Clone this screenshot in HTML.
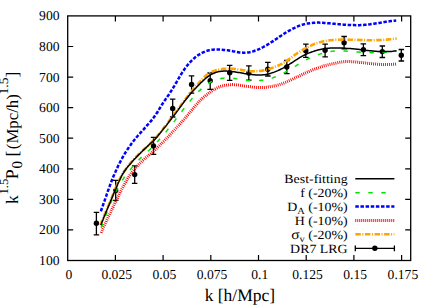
<!DOCTYPE html><html><head><meta charset="utf-8"><style>html,body{margin:0;padding:0;background:#fff}svg{display:block}text{font-family:"Liberation Serif",serif;fill:#000;text-rendering:geometricPrecision}</style></head><body>
<svg width="436" height="305" viewBox="0 0 436 305">
<rect width="436" height="305" fill="#fff"/>
<path d="M96.4,212.4V234.8M93.7,212.4h5.5M93.7,234.8h5.5" stroke="#000" stroke-width="1.3" fill="none"/>
<circle cx="96.4" cy="223.3" r="2.7" fill="#000"/>
<path d="M115.7,180.4V200.3M113.0,180.4h5.5M113.0,200.3h5.5" stroke="#000" stroke-width="1.3" fill="none"/>
<circle cx="115.7" cy="190.6" r="2.7" fill="#000"/>
<path d="M134.7,165.8V183.4M131.9,165.8h5.5M131.9,183.4h5.5" stroke="#000" stroke-width="1.3" fill="none"/>
<circle cx="134.7" cy="174.6" r="2.7" fill="#000"/>
<path d="M153.5,137.4V154.3M150.8,137.4h5.5M150.8,154.3h5.5" stroke="#000" stroke-width="1.3" fill="none"/>
<circle cx="153.5" cy="145.9" r="2.7" fill="#000"/>
<path d="M172.7,99.2V117.0M169.9,99.2h5.5M169.9,117.0h5.5" stroke="#000" stroke-width="1.3" fill="none"/>
<circle cx="172.7" cy="108.4" r="2.7" fill="#000"/>
<path d="M191.6,75.9V93.2M188.8,75.9h5.5M188.8,93.2h5.5" stroke="#000" stroke-width="1.3" fill="none"/>
<circle cx="191.6" cy="84.4" r="2.7" fill="#000"/>
<path d="M210.2,73.0V89.3M207.4,73.0h5.5M207.4,89.3h5.5" stroke="#000" stroke-width="1.3" fill="none"/>
<circle cx="210.2" cy="80.8" r="2.7" fill="#000"/>
<path d="M229.7,65.3V80.4M226.9,65.3h5.5M226.9,80.4h5.5" stroke="#000" stroke-width="1.3" fill="none"/>
<circle cx="229.7" cy="72.8" r="2.7" fill="#000"/>
<path d="M248.8,65.8V80.1M246.1,65.8h5.5M246.1,80.1h5.5" stroke="#000" stroke-width="1.3" fill="none"/>
<circle cx="248.8" cy="73.0" r="2.7" fill="#000"/>
<path d="M267.8,62.4V76.0M265.1,62.4h5.5M265.1,76.0h5.5" stroke="#000" stroke-width="1.3" fill="none"/>
<circle cx="267.8" cy="69.2" r="2.7" fill="#000"/>
<path d="M286.8,60.5V73.7M284.1,60.5h5.5M284.1,73.7h5.5" stroke="#000" stroke-width="1.3" fill="none"/>
<circle cx="286.8" cy="67.0" r="2.7" fill="#000"/>
<path d="M305.8,44.2V57.3M303.1,44.2h5.5M303.1,57.3h5.5" stroke="#000" stroke-width="1.3" fill="none"/>
<circle cx="305.8" cy="50.8" r="2.7" fill="#000"/>
<path d="M325.1,44.1V56.9M322.4,44.1h5.5M322.4,56.9h5.5" stroke="#000" stroke-width="1.3" fill="none"/>
<circle cx="325.1" cy="50.3" r="2.7" fill="#000"/>
<path d="M344.1,36.5V48.8M341.4,36.5h5.5M341.4,48.8h5.5" stroke="#000" stroke-width="1.3" fill="none"/>
<circle cx="344.1" cy="42.8" r="2.7" fill="#000"/>
<path d="M363.4,43.8V55.6M360.6,43.8h5.5M360.6,55.6h5.5" stroke="#000" stroke-width="1.3" fill="none"/>
<circle cx="363.4" cy="49.8" r="2.7" fill="#000"/>
<path d="M382.3,46.0V57.5M379.6,46.0h5.5M379.6,57.5h5.5" stroke="#000" stroke-width="1.3" fill="none"/>
<circle cx="382.3" cy="51.6" r="2.7" fill="#000"/>
<path d="M401.3,49.5V61.0M398.6,49.5h5.5M398.6,61.0h5.5" stroke="#000" stroke-width="1.3" fill="none"/>
<circle cx="401.3" cy="55.2" r="2.7" fill="#000"/>
<path d="M100.5,225.1 L100.8,224.2 L101.2,223.3 L101.5,222.4 L101.8,221.4 L102.2,220.5 L102.5,219.6 L102.9,218.8 L103.3,217.9 L103.6,217.0 L104.0,216.1 L104.4,215.2 L104.7,214.3 L105.1,213.4 L105.5,212.5 L105.8,211.6 L106.2,210.7 L106.6,209.9 L107.0,209.0 L107.4,208.1 L107.7,207.2 L108.1,206.3 L108.5,205.4 L108.9,204.5 L109.2,203.7 L109.6,202.8 L110.0,201.9 L110.4,201.0 L110.7,200.1 L111.1,199.2 L111.5,198.3 L111.8,197.4 L112.2,196.5 L112.6,195.6 L112.9,194.7 L113.3,193.8 L113.7,192.9 L114.0,192.0 L114.4,191.1 L114.7,190.2 L115.1,189.3 L115.5,188.4 L115.8,187.5 L116.2,186.7 L116.6,185.8 L117.0,184.9 L117.4,184.0 L117.7,183.1 L118.1,182.2 L118.6,181.3 L119.0,180.5 L119.4,179.6 L119.8,178.7 L120.3,177.9 L120.7,177.0 L121.2,176.2 L121.7,175.4 L122.1,174.5 L122.6,173.7 L123.1,172.9 L123.7,172.1 L124.2,171.3 L124.7,170.5 L125.3,169.7 L125.8,168.9 L126.4,168.2 L127.0,167.4 L127.6,166.6 L128.2,165.9 L128.8,165.1 L129.4,164.4 L130.0,163.6 L130.6,162.9 L131.2,162.1 L131.9,161.4 L132.5,160.7 L133.2,160.0 L133.8,159.3 L134.5,158.6 L135.1,157.9 L135.8,157.2 L136.5,156.5 L137.2,155.8 L137.9,155.1 L138.5,154.4 L139.2,153.7 L139.9,153.1 L140.6,152.4 L141.3,151.7 L142.0,151.0 L142.7,150.4 L143.4,149.7 L144.1,149.1 L144.9,148.4 L145.6,147.8 L146.3,147.1 L147.0,146.4 L147.7,145.8 L148.4,145.1 L149.1,144.5 L149.8,143.8 L150.5,143.1 L151.2,142.5 L151.8,141.8 L152.5,141.1 L153.2,140.4 L153.9,139.7 L154.5,139.0 L155.2,138.3 L155.8,137.6 L156.5,136.9 L157.1,136.2 L157.8,135.5 L158.4,134.7 L159.0,134.0 L159.6,133.3 L160.2,132.5 L160.8,131.7 L161.4,131.0 L162.0,130.2 L162.6,129.5 L163.2,128.7 L163.8,127.9 L164.4,127.1 L165.0,126.4 L165.5,125.6 L166.1,124.8 L166.7,124.1 L167.3,123.3 L167.9,122.5 L168.5,121.7 L169.0,121.0 L169.6,120.2 L170.2,119.4 L170.8,118.7 L171.4,117.9 L172.0,117.2 L172.6,116.4 L173.1,115.6 L173.7,114.9 L174.3,114.1 L174.9,113.3 L175.5,112.5 L176.0,111.8 L176.6,111.0 L177.2,110.2 L177.8,109.5 L178.3,108.7 L178.9,107.9 L179.5,107.1 L180.1,106.3 L180.6,105.6 L181.2,104.8 L181.8,104.0 L182.4,103.2 L182.9,102.5 L183.5,101.7 L184.1,100.9 L184.7,100.2 L185.2,99.4 L185.8,98.6 L186.4,97.8 L187.0,97.1 L187.6,96.3 L188.2,95.6 L188.8,94.8 L189.4,94.1 L190.0,93.3 L190.6,92.6 L191.2,91.8 L191.8,91.1 L192.5,90.3 L193.1,89.6 L193.7,88.9 L194.3,88.1 L195.0,87.4 L195.6,86.7 L196.2,85.9 L196.9,85.2 L197.5,84.5 L198.2,83.8 L198.8,83.0 L199.4,82.3 L200.1,81.6 L200.7,80.8 L201.4,80.1 L202.0,79.4 L202.7,78.7 L203.4,78.0 L204.0,77.3 L204.7,76.6 L205.4,76.0 L206.2,75.4 L206.9,74.8 L207.7,74.2 L208.5,73.7 L209.3,73.2 L210.1,72.7 L210.9,72.3 L211.8,71.8 L212.7,71.5 L213.6,71.1 L214.5,70.8 L215.4,70.5 L216.3,70.2 L217.3,69.9 L218.2,69.7 L219.2,69.5 L220.1,69.3 L221.1,69.2 L222.1,69.0 L223.0,68.9 L224.0,68.8 L225.0,68.8 L226.0,68.7 L226.9,68.7 L227.9,68.7 L228.9,68.7 L229.8,68.7 L230.8,68.7 L231.7,68.8 L232.7,68.9 L233.6,68.9 L234.6,69.0 L235.5,69.1 L236.5,69.3 L237.4,69.4 L238.4,69.5 L239.3,69.7 L240.3,69.8 L241.2,69.9 L242.2,70.1 L243.2,70.2 L244.1,70.4 L245.1,70.5 L246.0,70.7 L247.0,70.8 L247.9,70.9 L248.9,71.0 L249.9,71.1 L250.8,71.2 L251.8,71.3 L252.7,71.3 L253.7,71.3 L254.7,71.3 L255.6,71.3 L256.6,71.2 L257.5,71.2 L258.5,71.1 L259.5,71.0 L260.4,70.9 L261.4,70.7 L262.3,70.6 L263.3,70.4 L264.2,70.2 L265.2,70.0 L266.1,69.8 L267.1,69.5 L268.0,69.3 L268.9,69.0 L269.9,68.7 L270.8,68.4 L271.7,68.1 L272.6,67.8 L273.5,67.5 L274.4,67.2 L275.3,66.8 L276.2,66.4 L277.1,66.1 L278.0,65.7 L278.9,65.3 L279.7,64.9 L280.6,64.4 L281.5,64.0 L282.3,63.5 L283.1,63.0 L284.0,62.6 L284.8,62.0 L285.6,61.5 L286.4,61.0 L287.2,60.5 L288.0,59.9 L288.8,59.3 L289.5,58.8 L290.3,58.2 L291.1,57.6 L291.9,57.1 L292.6,56.5 L293.4,55.9 L294.2,55.3 L295.0,54.8 L295.8,54.2 L296.6,53.7 L297.4,53.1 L298.2,52.6 L299.0,52.1 L299.8,51.6 L300.6,51.0 L301.4,50.6 L302.3,50.1 L303.1,49.6 L303.9,49.1 L304.8,48.6 L305.6,48.2 L306.5,47.7 L307.3,47.3 L308.2,46.8 L309.1,46.4 L309.9,46.0 L310.8,45.6 L311.7,45.2 L312.6,44.8 L313.5,44.4 L314.3,44.0 L315.2,43.7 L316.2,43.4 L317.1,43.1 L318.0,42.8 L318.9,42.5 L319.8,42.2 L320.7,42.0 L321.7,41.8 L322.6,41.5 L323.6,41.3 L324.5,41.1 L325.5,41.0 L326.4,40.8 L327.4,40.7 L328.3,40.5 L329.3,40.4 L330.2,40.3 L331.2,40.2 L332.2,40.1 L333.1,40.0 L334.1,39.9 L335.1,39.9 L336.0,39.8 L337.0,39.8 L338.0,39.7 L338.9,39.7 L339.9,39.7 L340.9,39.6 L341.8,39.6 L342.8,39.6 L343.8,39.6 L344.7,39.6 L345.7,39.6 L346.7,39.6 L347.6,39.6 L348.6,39.7 L349.5,39.7 L350.5,39.7 L351.5,39.7 L352.4,39.7 L353.4,39.8 L354.4,39.8 L355.3,39.8 L356.3,39.9 L357.2,39.9 L358.2,39.9 L359.2,40.0 L360.1,40.0 L361.1,40.0 L362.1,40.0 L363.0,40.1 L364.0,40.1 L364.9,40.1 L365.9,40.1 L366.9,40.2 L367.8,40.2 L368.8,40.2 L369.8,40.2 L370.7,40.2 L371.7,40.2 L372.7,40.2 L373.6,40.2 L374.6,40.2 L375.6,40.2 L376.5,40.1 L377.5,40.1 L378.5,40.1 L379.4,40.1 L380.4,40.0 L381.4,40.0 L382.3,39.9 L383.3,39.9 L384.2,39.8 L385.2,39.7 L386.2,39.7 L387.1,39.6 L388.1,39.5 L389.0,39.4 L390.0,39.3 L391.0,39.2 L391.9,39.1 L392.9,39.0 L393.8,38.8 L394.8,38.7 L395.7,38.6 L396.7,38.4" fill="none" stroke="#ffa500" stroke-width="2.6" stroke-dasharray="5.5 1.5 1.0 1.6"/>
<path d="M101.1,232.8 L101.6,231.6 L102.1,230.5 L102.6,229.3 L103.1,228.2 L103.6,227.0 L104.1,225.9 L104.6,224.8 L105.2,223.6 L105.7,222.5 L106.2,221.4 L106.7,220.2 L107.3,219.1 L107.8,218.0 L108.3,216.8 L108.8,215.7 L109.4,214.6 L109.9,213.5 L110.5,212.4 L111.0,211.2 L111.5,210.1 L112.1,209.0 L112.6,207.9 L113.2,206.8 L113.7,205.7 L114.3,204.5 L114.8,203.4 L115.4,202.3 L115.9,201.2 L116.5,200.1 L117.0,198.9 L117.6,197.8 L118.1,196.7 L118.7,195.6 L119.2,194.4 L119.8,193.3 L120.3,192.2 L120.9,191.0 L121.5,189.9 L122.0,188.8 L122.6,187.7 L123.2,186.6 L123.8,185.5 L124.4,184.4 L125.0,183.3 L125.6,182.2 L126.2,181.1 L126.9,180.0 L127.5,178.9 L128.2,177.9 L128.8,176.8 L129.5,175.8 L130.2,174.8 L130.9,173.8 L131.7,172.8 L132.4,171.8 L133.2,170.8 L134.0,169.8 L134.8,168.9 L135.6,167.9 L136.4,167.0 L137.3,166.1 L138.1,165.2 L139.0,164.3 L139.9,163.4 L140.8,162.6 L141.6,161.7 L142.5,160.8 L143.5,160.0 L144.4,159.1 L145.3,158.3 L146.2,157.4 L147.1,156.6 L148.1,155.9 L149.0,155.1 L149.9,154.3 L150.8,153.6 L151.7,152.8 L152.7,152.0 L153.6,151.2 L154.5,150.3 L155.4,149.5 L156.3,148.7 L157.2,147.8 L158.0,147.0 L158.9,146.1 L159.8,145.3 L160.7,144.4 L161.6,143.6 L162.4,142.7 L163.3,141.8 L164.2,141.0 L165.0,140.1 L165.9,139.2 L166.7,138.3 L167.6,137.4 L168.5,136.5 L169.3,135.6 L170.1,134.7 L171.0,133.8 L171.8,132.9 L172.7,132.0 L173.5,131.1 L174.3,130.2 L175.2,129.2 L176.0,128.3 L176.8,127.4 L177.6,126.5 L178.5,125.6 L179.3,124.7 L180.1,123.8 L180.9,122.9 L181.7,122.0 L182.5,121.1 L183.3,120.2 L184.2,119.3 L185.0,118.3 L185.8,117.3 L186.6,116.4 L187.4,115.4 L188.2,114.5 L189.0,113.5 L189.8,112.5 L190.6,111.6 L191.4,110.6 L192.2,109.7 L193.0,108.7 L193.8,107.7 L194.6,106.8 L195.4,105.8 L196.2,104.8 L197.1,103.9 L197.9,102.9 L198.7,101.9 L199.6,101.0 L200.5,100.1 L201.3,99.2 L202.2,98.4 L203.1,97.6 L204.0,96.9 L205.0,96.2 L205.9,95.4 L206.9,94.7 L207.9,93.9 L208.9,93.1 L209.9,92.4 L211.0,91.6 L212.1,90.8 L213.1,90.1 L214.2,89.4 L215.4,88.8 L216.5,88.2 L217.6,87.7 L218.8,87.2 L220.0,86.7 L221.1,86.3 L222.3,86.0 L223.5,85.7 L224.7,85.4 L225.9,85.2 L227.2,85.0 L228.4,84.9 L229.6,84.7 L230.8,84.7 L232.1,84.6 L233.3,84.6 L234.6,84.7 L235.8,84.8 L237.0,84.9 L238.3,85.0 L239.5,85.2 L240.8,85.4 L242.0,85.6 L243.2,85.8 L244.5,86.0 L245.7,86.1 L247.0,86.3 L248.2,86.4 L249.5,86.5 L250.7,86.7 L252.0,87.0 L253.3,87.2 L254.5,87.3 L255.8,87.4 L257.0,87.4 L258.3,87.4 L259.5,87.5 L260.8,87.5 L262.0,87.5 L263.3,87.5 L264.5,87.4 L265.7,87.3 L267.0,87.2 L268.2,87.0 L269.4,86.9 L270.6,86.6 L271.8,86.4 L273.0,86.2 L274.2,85.9 L275.4,85.7 L276.6,85.4 L277.7,85.1 L278.9,84.8 L280.1,84.4 L281.3,84.0 L282.4,83.5 L283.6,83.1 L284.7,82.6 L285.9,82.2 L287.0,81.7 L288.2,81.2 L289.3,80.7 L290.5,80.2 L291.6,79.6 L292.8,79.0 L293.9,78.4 L295.1,77.9 L296.2,77.3 L297.4,76.8 L298.5,76.3 L299.7,75.7 L300.8,75.2 L302.0,74.6 L303.1,74.1 L304.3,73.6 L305.4,73.0 L306.6,72.5 L307.7,72.0 L308.9,71.5 L310.0,71.0 L311.2,70.5 L312.4,70.0 L313.5,69.6 L314.7,69.1 L315.9,68.7 L317.0,68.2 L318.2,67.8 L319.4,67.4 L320.6,67.0 L321.7,66.6 L322.9,66.2 L324.1,65.8 L325.3,65.5 L326.5,65.2 L327.7,64.9 L328.9,64.6 L330.1,64.3 L331.3,64.0 L332.5,63.8 L333.7,63.6 L334.9,63.4 L336.1,63.1 L337.3,62.8 L338.6,62.5 L339.8,62.3 L341.0,62.1 L342.3,61.9 L343.5,61.7 L344.7,61.6 L346.0,61.5 L347.2,61.5 L348.4,61.6 L349.7,61.6 L350.9,61.7 L352.2,61.7 L353.4,61.8 L354.7,61.9 L356.0,62.0 L357.2,62.1 L358.5,62.2 L359.7,62.4 L361.0,62.5 L362.2,62.6 L363.5,62.8 L364.8,62.9 L366.0,63.0 L367.3,63.2 L368.6,63.3 L369.8,63.5 L371.1,63.6 L372.3,63.7 L373.6,63.9 L374.9,64.0 L376.1,64.1 L377.4,64.2 L378.6,64.3 L379.9,64.4 L381.1,64.5 L382.4,64.5 L383.6,64.6 L384.9,64.6 L386.1,64.6 L387.4,64.6 L388.6,64.6 L389.9,64.5 L391.1,64.5 L392.3,64.4 L393.5,64.3 L394.8,64.2 L396.0,64.0" fill="none" stroke="#ff0000" stroke-width="3.0" stroke-dasharray="0.9 1.1"/>
<path d="M100.8,211.3 L101.3,210.1 L101.7,208.8 L102.2,207.6 L102.6,206.3 L103.0,205.1 L103.5,203.8 L103.9,202.6 L104.4,201.4 L104.8,200.1 L105.2,198.9 L105.6,197.6 L106.1,196.4 L106.5,195.1 L106.9,193.9 L107.4,192.6 L107.8,191.4 L108.2,190.2 L108.7,188.9 L109.1,187.7 L109.6,186.4 L110.0,185.2 L110.5,184.0 L110.9,182.7 L111.4,181.5 L111.9,180.3 L112.3,179.0 L112.8,177.9 L113.3,176.7 L113.8,175.6 L114.3,174.5 L114.8,173.3 L115.3,172.2 L115.8,171.0 L116.4,169.8 L116.9,168.6 L117.5,167.4 L118.0,166.2 L118.6,165.0 L119.2,163.9 L119.8,162.7 L120.4,161.5 L121.0,160.3 L121.6,159.2 L122.3,158.0 L122.9,156.9 L123.6,155.7 L124.3,154.6 L124.9,153.4 L125.6,152.3 L126.3,151.2 L127.0,150.1 L127.8,149.0 L128.5,147.9 L129.2,146.8 L130.0,145.7 L130.8,144.7 L131.5,143.6 L132.3,142.6 L133.1,141.6 L133.9,140.5 L134.7,139.5 L135.6,138.5 L136.4,137.5 L137.2,136.5 L138.1,135.5 L138.9,134.6 L139.8,133.6 L140.6,132.6 L141.5,131.7 L142.3,130.7 L143.2,129.8 L144.1,128.8 L144.9,127.9 L145.8,126.9 L146.6,125.9 L147.5,125.0 L148.3,124.0 L149.2,123.1 L150.0,122.1 L150.9,121.1 L151.7,120.1 L152.5,119.1 L153.3,118.1 L154.1,117.0 L154.8,116.0 L155.6,114.9 L156.3,113.8 L157.1,112.7 L157.8,111.5 L158.5,110.3 L159.2,109.2 L159.9,108.0 L160.7,106.8 L161.4,105.7 L162.1,104.5 L162.8,103.4 L163.6,102.2 L164.3,101.1 L165.1,100.0 L165.8,98.9 L166.5,97.9 L167.3,96.8 L168.0,95.7 L168.8,94.7 L169.5,93.6 L170.2,92.5 L170.9,91.4 L171.6,90.3 L172.3,89.2 L173.0,88.1 L173.7,86.9 L174.4,85.8 L175.0,84.7 L175.7,83.5 L176.4,82.4 L177.0,81.3 L177.7,80.1 L178.3,79.0 L179.0,77.9 L179.7,76.7 L180.4,75.6 L181.0,74.5 L181.7,73.4 L182.4,72.2 L183.2,71.2 L183.9,70.1 L184.6,69.0 L185.4,67.9 L186.2,66.9 L187.0,65.8 L187.8,64.8 L188.7,63.8 L189.5,62.8 L190.4,61.8 L191.4,60.8 L192.3,59.9 L193.3,59.0 L194.3,58.1 L195.3,57.2 L196.4,56.4 L197.5,55.6 L198.6,54.9 L199.7,54.2 L200.8,53.5 L202.0,52.9 L203.2,52.3 L204.4,51.8 L205.6,51.3 L206.8,50.9 L208.0,50.5 L209.3,50.2 L210.6,50.0 L211.8,49.8 L213.1,49.7 L214.4,49.6 L215.7,49.6 L217.0,49.6 L218.4,49.6 L219.7,49.6 L221.0,49.7 L222.3,49.8 L223.7,49.9 L225.0,50.0 L226.3,50.2 L227.7,50.3 L229.0,50.5 L230.3,50.7 L231.6,50.9 L232.9,51.2 L234.2,51.4 L235.5,51.7 L236.8,52.0 L238.1,52.2 L239.4,52.4 L240.7,52.5 L242.0,52.6 L243.2,52.7 L244.5,52.7 L245.8,52.6 L247.1,52.5 L248.4,52.4 L249.6,52.2 L250.9,51.9 L252.2,51.6 L253.5,51.2 L254.7,50.8 L256.0,50.4 L257.2,49.9 L258.5,49.4 L259.7,48.8 L260.9,48.2 L262.1,47.6 L263.3,47.0 L264.4,46.4 L265.6,45.7 L266.7,45.1 L267.9,44.4 L269.0,43.7 L270.1,43.0 L271.2,42.3 L272.3,41.6 L273.4,40.9 L274.5,40.1 L275.6,39.4 L276.7,38.7 L277.8,37.9 L278.9,37.2 L280.0,36.4 L281.1,35.7 L282.2,34.9 L283.3,34.2 L284.4,33.5 L285.5,32.8 L286.6,32.1 L287.8,31.4 L288.9,30.8 L290.1,30.2 L291.2,29.6 L292.4,28.9 L293.5,28.3 L294.7,27.8 L295.9,27.2 L297.1,26.7 L298.3,26.2 L299.5,25.7 L300.7,25.2 L302.0,24.8 L303.2,24.5 L304.5,24.1 L305.7,23.8 L307.0,23.6 L308.3,23.4 L309.6,23.2 L310.9,23.0 L312.2,22.9 L313.5,22.8 L314.8,22.7 L316.2,22.6 L317.5,22.6 L318.8,22.6 L320.1,22.7 L321.5,22.7 L322.8,22.8 L324.1,22.9 L325.4,23.0 L326.8,23.1 L328.1,23.2 L329.4,23.3 L330.7,23.5 L332.0,23.6 L333.3,23.7 L334.7,23.8 L336.0,23.9 L337.3,24.1 L338.6,24.2 L339.9,24.3 L341.2,24.5 L342.5,24.6 L343.8,24.7 L345.2,24.8 L346.5,24.9 L347.8,24.9 L349.1,25.0 L350.4,25.0 L351.7,25.1 L353.0,25.1 L354.3,25.1 L355.6,25.2 L356.9,25.2 L358.2,25.2 L359.6,25.2 L360.9,25.1 L362.2,25.0 L363.5,25.0 L364.8,24.8 L366.1,24.7 L367.4,24.6 L368.7,24.4 L370.1,24.3 L371.4,24.1 L372.7,23.9 L374.0,23.7 L375.3,23.5 L376.6,23.3 L377.9,23.1 L379.2,22.9 L380.5,22.7 L381.9,22.5 L383.2,22.2 L384.5,22.0 L385.8,21.8 L387.1,21.6 L388.4,21.5 L389.7,21.3 L391.0,21.1 L392.3,21.0 L393.6,20.8 L394.9,20.7 L396.2,20.6" fill="none" stroke="#0000ff" stroke-width="2.5" stroke-dasharray="3.5 1.64"/>
<path d="M101.2,227.8 L101.6,226.6 L102.1,225.5 L102.5,224.3 L102.9,223.1 L103.4,222.0 L103.8,220.8 L104.3,219.6 L104.7,218.4 L105.1,217.2 L105.6,216.1 L106.0,214.9 L106.5,213.7 L106.9,212.5 L107.4,211.3 L107.9,210.1 L108.3,208.9 L108.8,207.8 L109.3,206.6 L109.7,205.4 L110.2,204.2 L110.7,203.0 L111.2,201.9 L111.7,200.7 L112.2,199.5 L112.7,198.4 L113.2,197.2 L113.8,196.0 L114.3,194.9 L114.9,193.7 L115.4,192.6 L116.0,191.5 L116.6,190.3 L117.1,189.2 L117.7,188.1 L118.3,187.0 L119.0,185.9 L119.6,184.8 L120.2,183.7 L120.9,182.6 L121.5,181.5 L122.2,180.5 L122.9,179.4 L123.6,178.4 L124.3,177.3 L125.1,176.3 L125.8,175.3 L126.5,174.3 L127.3,173.3 L128.1,172.3 L128.9,171.3 L129.7,170.3 L130.5,169.4 L131.3,168.4 L132.1,167.4 L132.9,166.5 L133.7,165.5 L134.6,164.6 L135.4,163.6 L136.3,162.7 L137.1,161.8 L138.0,160.8 L138.9,159.9 L139.7,159.0 L140.6,158.1 L141.5,157.2 L142.4,156.4 L143.2,155.6 L144.1,154.8 L145.0,154.0 L145.9,153.3 L146.8,152.5 L147.7,151.7 L148.5,150.8 L149.4,150.0 L150.3,149.1 L151.2,148.2 L152.1,147.3 L152.9,146.4 L153.8,145.5 L154.7,144.6 L155.5,143.7 L156.4,142.8 L157.3,141.9 L158.1,140.9 L158.9,140.0 L159.8,139.0 L160.6,138.1 L161.4,137.2 L162.2,136.2 L163.1,135.2 L163.9,134.3 L164.7,133.3 L165.5,132.3 L166.3,131.4 L167.1,130.4 L167.9,129.4 L168.6,128.5 L169.4,127.5 L170.2,126.5 L171.0,125.5 L171.8,124.5 L172.5,123.5 L173.3,122.5 L174.1,121.6 L174.9,120.6 L175.6,119.6 L176.4,118.5 L177.2,117.5 L178.0,116.5 L178.7,115.5 L179.5,114.4 L180.3,113.4 L181.1,112.4 L181.8,111.4 L182.6,110.3 L183.4,109.3 L184.2,108.3 L185.0,107.3 L185.8,106.3 L186.6,105.3 L187.4,104.3 L188.2,103.4 L189.0,102.4 L189.8,101.4 L190.6,100.4 L191.4,99.4 L192.2,98.4 L193.1,97.5 L193.9,96.5 L194.8,95.6 L195.6,94.6 L196.5,93.7 L197.4,92.8 L198.2,91.9 L199.1,91.0 L200.1,90.1 L201.0,89.2 L201.9,88.4 L202.9,87.5 L203.9,86.7 L204.9,85.9 L205.9,85.1 L207.0,84.4 L208.0,83.7 L209.1,83.0 L210.2,82.4 L211.4,81.7 L212.5,81.2 L213.7,80.6 L214.9,80.1 L216.1,79.7 L217.3,79.3 L218.5,78.9 L219.8,78.7 L221.0,78.5 L222.3,78.3 L223.5,78.2 L224.7,78.1 L226.0,78.1 L227.2,78.1 L228.5,78.1 L229.8,78.2 L231.0,78.3 L232.3,78.4 L233.5,78.5 L234.8,78.6 L236.1,78.8 L237.3,78.9 L238.6,79.1 L239.9,79.3 L241.1,79.5 L242.4,79.7 L243.7,80.0 L245.0,80.2 L246.2,80.4 L247.5,80.6 L248.8,80.7 L250.1,80.7 L251.3,80.8 L252.6,80.8 L253.9,80.8 L255.2,80.8 L256.4,80.7 L257.7,80.7 L259.0,80.6 L260.2,80.5 L261.5,80.3 L262.7,80.2 L264.0,80.0 L265.2,79.8 L266.4,79.5 L267.7,79.3 L268.9,79.0 L270.1,78.7 L271.3,78.3 L272.5,77.9 L273.6,77.5 L274.8,77.1 L276.0,76.7 L277.1,76.2 L278.3,75.7 L279.4,75.2 L280.5,74.6 L281.7,74.1 L282.8,73.5 L283.9,72.9 L285.0,72.3 L286.1,71.7 L287.2,71.0 L288.3,70.4 L289.4,69.7 L290.5,69.1 L291.6,68.4 L292.7,67.8 L293.8,67.1 L294.9,66.4 L296.0,65.8 L297.0,65.1 L298.1,64.4 L299.2,63.8 L300.3,63.1 L301.4,62.5 L302.6,61.8 L303.7,61.2 L304.8,60.6 L305.9,60.0 L307.0,59.4 L308.2,58.8 L309.3,58.3 L310.5,57.7 L311.6,57.2 L312.8,56.7 L313.9,56.2 L315.1,55.8 L316.3,55.3 L317.5,54.9 L318.7,54.5 L319.8,54.1 L321.0,53.8 L322.3,53.4 L323.5,53.0 L324.7,52.7 L325.9,52.4 L327.1,52.1 L328.4,51.9 L329.6,51.6 L330.8,51.5 L332.1,51.3 L333.3,51.2 L334.6,51.1 L335.8,51.0 L337.1,50.9 L338.4,50.9 L339.6,50.9 L340.9,50.9 L342.2,50.9 L343.4,51.0 L344.7,51.0 L346.0,51.1 L347.3,51.2 L348.5,51.3 L349.8,51.4 L351.1,51.5 L352.4,51.6 L353.6,51.7 L354.9,51.8 L356.2,51.9 L357.4,52.0 L358.7,52.1 L360.0,52.2 L361.2,52.3 L362.5,52.3 L363.8,52.4 L365.0,52.5 L366.3,52.5 L367.6,52.6 L368.8,52.6 L370.1,52.6 L371.3,52.7 L372.6,52.7 L373.8,52.7 L375.1,52.7 L376.3,52.7 L377.6,52.6 L378.8,52.6 L380.1,52.6 L381.4,52.5 L382.6,52.5 L383.9,52.4 L385.1,52.3 L386.4,52.2 L387.6,52.1 L388.9,52.0 L390.2,51.9 L391.4,51.8 L392.7,51.6 L394.0,51.4 L395.2,51.3 L396.5,51.1" fill="none" stroke="#00e400" stroke-width="1.5" stroke-dasharray="4.4 8.6"/>
<path d="M100.8,225.2 L101.3,224.0 L101.7,222.8 L102.2,221.6 L102.7,220.4 L103.2,219.2 L103.6,218.0 L104.1,216.8 L104.6,215.6 L105.1,214.5 L105.6,213.3 L106.0,212.1 L106.5,210.9 L107.0,209.8 L107.5,208.6 L108.0,207.4 L108.5,206.2 L109.0,205.1 L109.5,203.9 L110.0,202.7 L110.4,201.6 L110.9,200.4 L111.4,199.2 L111.9,198.0 L112.4,196.9 L112.9,195.7 L113.4,194.5 L113.9,193.3 L114.4,192.1 L114.9,190.9 L115.4,189.7 L115.9,188.6 L116.4,187.4 L116.9,186.2 L117.4,185.0 L117.9,183.8 L118.4,182.6 L119.0,181.5 L119.5,180.3 L120.1,179.1 L120.6,178.0 L121.2,176.8 L121.8,175.7 L122.4,174.6 L123.0,173.5 L123.7,172.5 L124.3,171.5 L125.0,170.5 L125.7,169.5 L126.4,168.5 L127.1,167.6 L127.9,166.6 L128.7,165.7 L129.5,164.8 L130.3,163.9 L131.1,163.0 L131.9,162.0 L132.8,161.0 L133.6,160.1 L134.5,159.1 L135.4,158.2 L136.3,157.2 L137.2,156.3 L138.1,155.4 L139.0,154.5 L139.9,153.6 L140.8,152.7 L141.8,151.8 L142.7,150.8 L143.6,149.9 L144.5,149.1 L145.4,148.2 L146.4,147.4 L147.3,146.5 L148.2,145.6 L149.1,144.7 L150.0,143.8 L150.9,143.1 L151.8,142.4 L152.7,141.7 L153.5,140.9 L154.4,139.9 L155.3,139.0 L156.2,138.1 L157.0,137.0 L157.9,135.9 L158.7,134.8 L159.6,133.7 L160.4,132.7 L161.3,131.7 L162.1,130.6 L162.9,129.6 L163.7,128.6 L164.6,127.6 L165.4,126.6 L166.2,125.6 L167.0,124.6 L167.7,123.6 L168.5,122.5 L169.3,121.5 L170.1,120.5 L170.8,119.5 L171.6,118.5 L172.4,117.4 L173.1,116.5 L173.9,115.5 L174.7,114.6 L175.4,113.6 L176.2,112.6 L176.9,111.6 L177.7,110.6 L178.4,109.6 L179.2,108.5 L179.9,107.5 L180.7,106.5 L181.5,105.4 L182.2,104.4 L183.0,103.4 L183.8,102.3 L184.5,101.3 L185.3,100.3 L186.1,99.3 L186.9,98.3 L187.7,97.3 L188.5,96.3 L189.3,95.3 L190.1,94.3 L190.9,93.3 L191.7,92.4 L192.5,91.5 L193.4,90.6 L194.2,89.7 L195.1,88.8 L195.9,87.9 L196.8,86.9 L197.7,86.0 L198.6,85.1 L199.5,84.2 L200.4,83.3 L201.3,82.4 L202.3,81.5 L203.2,80.6 L204.2,79.7 L205.2,78.8 L206.2,77.9 L207.2,77.1 L208.3,76.3 L209.3,75.6 L210.4,74.9 L211.5,74.3 L212.6,73.7 L213.8,73.2 L215.0,72.7 L216.2,72.3 L217.5,71.9 L218.7,71.6 L220.0,71.4 L221.2,71.3 L222.5,71.2 L223.8,71.1 L225.1,71.1 L226.3,71.1 L227.6,71.2 L228.9,71.3 L230.2,71.4 L231.5,71.5 L232.8,71.7 L234.1,71.8 L235.4,72.0 L236.7,72.2 L237.9,72.4 L239.2,72.6 L240.5,72.8 L241.8,73.0 L243.1,73.2 L244.3,73.5 L245.6,73.7 L246.9,73.8 L248.1,74.0 L249.4,74.2 L250.7,74.4 L251.9,74.5 L253.2,74.7 L254.5,74.8 L255.7,74.9 L257.0,75.0 L258.2,75.0 L259.5,75.0 L260.7,75.0 L262.0,74.9 L263.2,74.8 L264.5,74.7 L265.7,74.5 L267.0,74.2 L268.2,74.0 L269.4,73.7 L270.7,73.3 L271.9,72.9 L273.1,72.5 L274.3,72.1 L275.5,71.6 L276.7,71.1 L277.9,70.6 L279.1,70.0 L280.3,69.5 L281.4,68.9 L282.6,68.3 L283.7,67.7 L284.8,67.0 L286.0,66.4 L287.1,65.7 L288.2,65.0 L289.2,64.4 L290.3,63.7 L291.4,63.0 L292.5,62.3 L293.5,61.6 L294.6,60.9 L295.7,60.2 L296.7,59.5 L297.8,58.8 L298.9,58.1 L300.0,57.4 L301.1,56.8 L302.2,56.2 L303.3,55.6 L304.5,55.0 L305.6,54.5 L306.8,53.9 L308.0,53.4 L309.1,52.9 L310.3,52.5 L311.6,52.0 L312.8,51.6 L314.0,51.2 L315.2,50.8 L316.5,50.4 L317.7,50.1 L319.0,49.8 L320.2,49.5 L321.5,49.2 L322.7,49.0 L324.0,48.8 L325.2,48.6 L326.5,48.4 L327.8,48.3 L329.0,48.2 L330.3,48.1 L331.6,48.0 L332.8,48.0 L334.1,47.9 L335.4,47.9 L336.6,47.9 L337.9,47.9 L339.2,47.9 L340.4,48.0 L341.7,48.1 L343.0,48.1 L344.2,48.2 L345.5,48.3 L346.8,48.4 L348.0,48.4 L349.3,48.5 L350.6,48.6 L351.9,48.7 L353.1,48.8 L354.4,48.9 L355.7,49.0 L357.0,49.2 L358.2,49.3 L359.5,49.5 L360.8,49.7 L362.1,49.8 L363.3,50.0 L364.6,50.1 L365.9,50.3 L367.2,50.4 L368.4,50.6 L369.7,50.7 L371.0,50.8 L372.3,51.0 L373.5,51.1 L374.8,51.2 L376.1,51.3 L377.4,51.4 L378.6,51.4 L379.9,51.5 L381.2,51.5 L382.5,51.6 L383.8,51.6 L385.0,51.6 L386.3,51.6 L387.6,51.6 L388.9,51.5 L390.1,51.5 L391.4,51.4 L392.7,51.3 L394.0,51.1 L395.2,51.0 L396.5,50.8" fill="none" stroke="#000" stroke-width="1.5"/>
<rect x="67.7" y="15.9" width="343.0" height="244.6" fill="none" stroke="#000" stroke-width="1.3"/>
<text x="69.0" y="278.5" font-size="13.6" text-anchor="middle">0</text>
<path d="M115.4,260.5v-5.5M115.4,15.9v5.5" stroke="#000" stroke-width="1.2"/>
<text x="116.7" y="278.5" font-size="13.6" text-anchor="middle">0.025</text>
<path d="M163.1,260.5v-5.5M163.1,15.9v5.5" stroke="#000" stroke-width="1.2"/>
<text x="164.4" y="278.5" font-size="13.6" text-anchor="middle">0.05</text>
<path d="M210.8,260.5v-5.5M210.8,15.9v5.5" stroke="#000" stroke-width="1.2"/>
<text x="212.1" y="278.5" font-size="13.6" text-anchor="middle">0.075</text>
<path d="M258.5,260.5v-5.5M258.5,15.9v5.5" stroke="#000" stroke-width="1.2"/>
<text x="259.8" y="278.5" font-size="13.6" text-anchor="middle">0.1</text>
<path d="M306.2,260.5v-5.5M306.2,15.9v5.5" stroke="#000" stroke-width="1.2"/>
<text x="307.5" y="278.5" font-size="13.6" text-anchor="middle">0.125</text>
<path d="M353.9,260.5v-5.5M353.9,15.9v5.5" stroke="#000" stroke-width="1.2"/>
<text x="355.2" y="278.5" font-size="13.6" text-anchor="middle">0.15</text>
<path d="M401.6,260.5v-5.5M401.6,15.9v5.5" stroke="#000" stroke-width="1.2"/>
<text x="402.9" y="278.5" font-size="13.6" text-anchor="middle">0.175</text>
<text x="59.5" y="265.0" font-size="13.6" text-anchor="end">100</text>
<path d="M67.7,229.9h5.5M410.7,229.9h-5.5" stroke="#000" stroke-width="1.2"/>
<text x="59.5" y="234.4" font-size="13.6" text-anchor="end">200</text>
<path d="M67.7,199.3h5.5M410.7,199.3h-5.5" stroke="#000" stroke-width="1.2"/>
<text x="59.5" y="203.8" font-size="13.6" text-anchor="end">300</text>
<path d="M67.7,168.8h5.5M410.7,168.8h-5.5" stroke="#000" stroke-width="1.2"/>
<text x="59.5" y="173.3" font-size="13.6" text-anchor="end">400</text>
<path d="M67.7,138.2h5.5M410.7,138.2h-5.5" stroke="#000" stroke-width="1.2"/>
<text x="59.5" y="142.7" font-size="13.6" text-anchor="end">500</text>
<path d="M67.7,107.6h5.5M410.7,107.6h-5.5" stroke="#000" stroke-width="1.2"/>
<text x="59.5" y="112.1" font-size="13.6" text-anchor="end">600</text>
<path d="M67.7,77.1h5.5M410.7,77.1h-5.5" stroke="#000" stroke-width="1.2"/>
<text x="59.5" y="81.6" font-size="13.6" text-anchor="end">700</text>
<path d="M67.7,46.5h5.5M410.7,46.5h-5.5" stroke="#000" stroke-width="1.2"/>
<text x="59.5" y="51.0" font-size="13.6" text-anchor="end">800</text>
<text x="59.5" y="20.4" font-size="13.6" text-anchor="end">900</text>
<text x="239.9" y="300.6" font-size="17.5" text-anchor="middle">k [h/Mpc]</text>
<text transform="translate(18.0,204.0) rotate(-90)" font-size="17.5">k</text>
<text transform="translate(7.7,194.5) rotate(-90)" font-size="12.7">1.5</text>
<text transform="translate(17.8,179.2) rotate(-90)" font-size="18">P</text>
<text transform="translate(22.4,168.6) rotate(-90)" font-size="15">0</text>
<text transform="translate(18.1,156.5) rotate(-90)" font-size="17.5">[</text>
<text transform="translate(18.1,149.2) rotate(-90)" font-size="16.8">(Mpc/h)</text>
<text transform="translate(7.7,94.4) rotate(-90)" font-size="13.5">1.5</text>
<text transform="translate(18.1,77.4) rotate(-90)" font-size="17.5">]</text>
<text transform="translate(347.6,183.2) scale(1,0.9)" font-size="13.9" text-anchor="end">Best-fitting</text>
<text transform="translate(347.6,197.1) scale(1,0.9)" font-size="13.9" text-anchor="end">f (-20%)</text>
<text transform="translate(347.6,211.0) scale(1,0.9)" font-size="13.9" text-anchor="end">D<tspan font-size="10.5" dy="3.8">A</tspan><tspan dy="-3.8"> (-10%)</tspan></text>
<text transform="translate(347.6,224.9) scale(1,0.9)" font-size="13.9" text-anchor="end">H (-10%)</text>
<text transform="translate(347.6,238.7) scale(1,0.9)" font-size="13.9" text-anchor="end"><tspan font-size="15.5">σ</tspan><tspan font-size="10.5" dy="3.8">v</tspan><tspan dy="-3.8"> (-20%)</tspan></text>
<text transform="translate(347.6,252.7) scale(1,0.9)" font-size="13.9" text-anchor="end">DR7 LRG</text>
<path d="M355.3,178.8H394.4" stroke="#000" stroke-width="1.5"/>
<path d="M355.3,192.7H393.4" stroke="#00e400" stroke-width="1.5" stroke-dasharray="4.4 8.6"/>
<path d="M355.3,206.6H394.4" stroke="#0000ff" stroke-width="2.5" stroke-dasharray="3.5 1.64"/>
<path d="M355.3,220.5H394.4" stroke="#ff0000" stroke-width="3.0" stroke-dasharray="0.9 1.1"/>
<path d="M355.3,234.3H394.4" stroke="#ffa500" stroke-width="2.6" stroke-dasharray="5.5 1.5 1.0 1.6"/>
<path d="M355.3,248.3H394.4M355.3,245.4v5.8M394.4,245.4v5.8" stroke="#000" stroke-width="1.3" fill="none"/>
<circle cx="374.85" cy="248.3" r="2.7" fill="#000"/>
</svg></body></html>
